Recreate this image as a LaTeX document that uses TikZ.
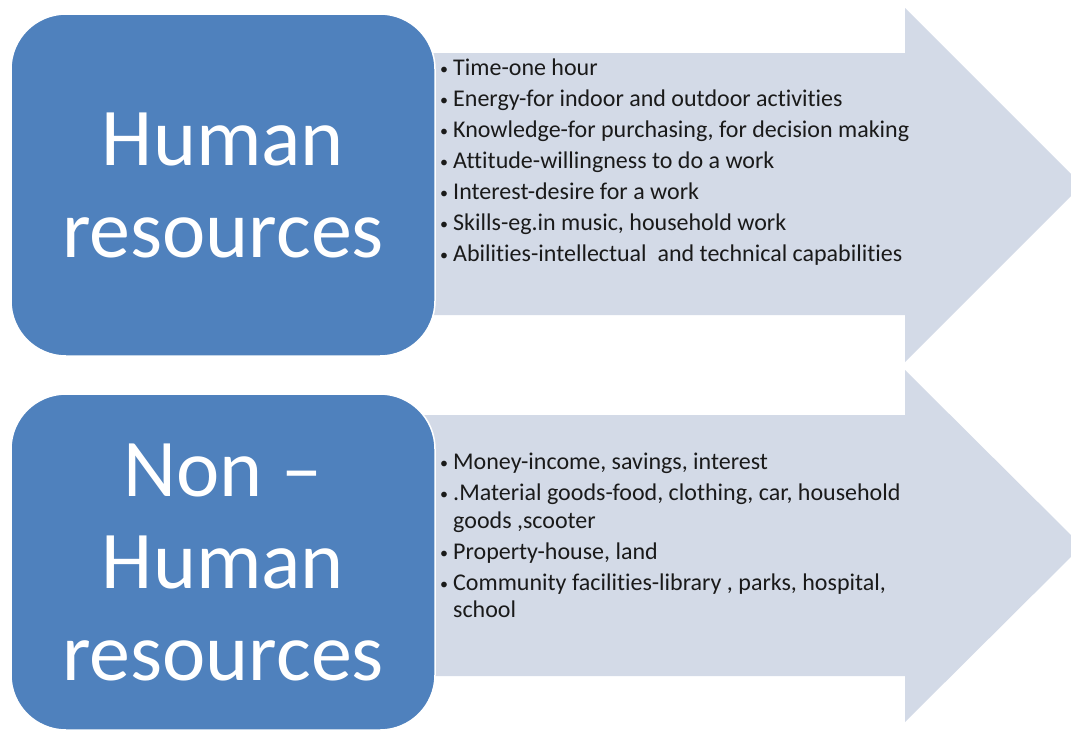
\documentclass[tikz,border=0pt]{standalone}
\usepackage{fontspec}
\setmainfont{Carlito}[Ligatures={NoCommon}]
\definecolor{boxblue}{HTML}{4F81BD}
\definecolor{arrowfill}{HTML}{D3DAE7}
\definecolor{listtext}{HTML}{1A1A1A}
% bullet and hanging indent for the item lists
\newcommand{\bitem}{\makebox[13pt][l]{\fontsize{16}{16}\selectfont\raisebox{1.5pt}{•}}}
\newcommand{\bcont}{\hspace*{13pt}}
\begin{document}
\begin{tikzpicture}[x=1pt,y=-1pt,
  resbox/.style={fill=boxblue, draw=white, line width=1.5pt, rounded corners=55pt,
    minimum width=424pt, inner sep=0pt, text=white, align=center,
    font=\fontsize{82}{92}\selectfont},
  bigarrow/.style={fill=arrowfill},
  itemlist/.style={anchor=north west, inner sep=0pt, align=left, text=listtext,
    font=\fontsize{24}{28}\selectfont}]
\useasboundingbox (0,0) rectangle (1071,732);
\clip (0,0) rectangle (1071,732);

% upper arrow
\fill[bigarrow] (420,53) -- (905,53) -- (905,8) -- (1082,185) -- (905,362)
  -- (905,315) -- (420,315) -- cycle;
% lower arrow
\fill[bigarrow] (420,415) -- (905,415) -- (905,370) -- (1082,546) -- (905,722)
  -- (905,676) -- (420,676) -- cycle;

% category boxes
\node[resbox, minimum height=342pt] (human) at (223,185) {Human\\resources};
\node[resbox, minimum height=336pt] (nonhuman) at (223,562) {Non –\\Human\\resources};

% item lists
\node[itemlist] (humanlist) at (440,59) {%
\bitem Time-one hour\\[3pt]
\bitem Energy-for indoor and outdoor activities\\[3pt]
\bitem Knowledge-for purchasing, for decision making\\[3pt]
\bitem Attitude-willingness to do a work\\[3pt]
\bitem Interest-desire for a work\\[3pt]
\bitem Skills-eg.in music, household work\\[3pt]
\bitem Abilities-intellectual\ \ and technical capabilities};

\node[itemlist] (nonhumanlist) at (440,453) {%
\bitem Money-income, savings, interest\\[3pt]
\bitem .Material goods-food, clothing, car, household\\
\bcont goods ,scooter\\[3pt]
\bitem Property-house, land\\[3pt]
\bitem Community facilities-library , parks, hospital,\\[-1pt]
\bcont school};
\end{tikzpicture}
\end{document}
